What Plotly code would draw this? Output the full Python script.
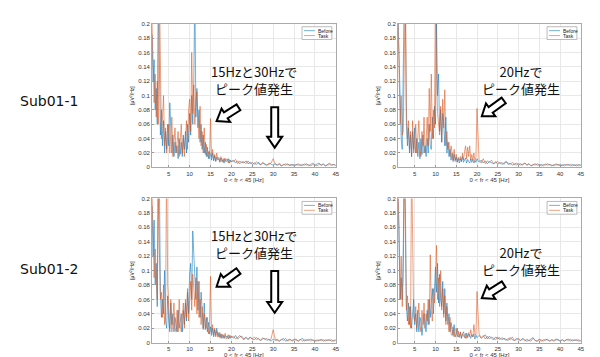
import math
import numpy as np
import plotly.graph_objects as go

# frequency grid [Hz]
freq = list(np.arange(1.0, 20.001, 0.25)) + list(np.arange(20.5, 45.001, 0.5))

# PSD values in 1e-3 uV^2/Hz
p1_before = [185,120,150,80, 110,60,250,90, 45,80,30,65, 20,50,25,60, 30,90,40,20,
             45,15,35,20, 30,12,40,18, 35,15,45,25, 50,20,60,35, 75,45,100,60,
             120,250,70,110, 55,80,35,60, 25,45,20,35, 15,28,12,22, 18,10,20,9,
             16,8,14,10, 12,7,13,8, 11,6,12,8, 9,12,6,10, 8,
             10,6,9,5,8,6,9,5,7,4, 6,4,7,3,6,4,3,6,4,3, 5,3,4,2,4,3,5,2,4,3,
             3,5,2,4,3,5,2,4,6,3, 4,6,3,5,2,4,6,3,4,3]
p1_task = [200,140,90,130, 70,120,60,260, 100,40,70,100, 30,55,20,45, 60,20,45,70,
           15,40,55,20, 35,50,15,45, 60,20,40,15, 45,65,25,80, 95,50,160,75,
           115,60,95,105, 65,40,85,30, 50,20,55,18, 32,15,22,12, 68,14,25,10,
           18,9,20,12, 14,8,15,9, 7,13,8,11, 12,6,11,7, 9,
           8,11,5,9,6,8,5,9,5,7, 4,8,5,4,7,5,3,4,6,12, 4,3,6,2,4,5,3,4,3,2,
           4,3,4,2,5,3,4,2,4,3, 2,4,3,4,2,3,4,3,4,2]
p2_before = [210,150,70,40, 25,110,250,230, 60,30,55,20, 45,15,50,25, 55,20,40,15,
             35,12,40,18, 45,20,30,15, 40,20,60,30, 25,70,40,85, 60,200,100,130,
             50,80,35,75, 60,30,70,20, 35,15,25,10, 20,8,18,10, 14,7,12,6,
             12,8,15,7, 10,13,6,11, 8,6,12,7, 11,6,9,7, 12,
             7,10,6,9,5,8,6,5,8,4, 7,4,6,8,4,6,3,5,6,3, 5,3,6,3,5,2,4,5,3,4,
             4,2,5,3,4,3,2,5,3,4, 2,4,3,4,2,4,3,2,4,3]
p2_task = [200,120,60,100, 45,50,180,260, 80,40,65,25, 50,15,65,20, 40,60,20,50,
           65,25,15,50, 30,70,20,35, 70,30,110,50, 130,40,80,55, 260,140,75,60,
           45,85,35,95, 55,108,30,50, 25,35,15,30, 22,10,25,8, 18,8,14,10,
           15,8,20,10, 22,30,12,28, 15,30,10,18, 10,20,8,15, 82,
           10,6,12,5,9,7,10,5,7,8, 5,7,4,8,6,4,7,4,3,6, 3,5,6,3,5,2,4,3,5,3,
           2,4,3,5,3,2,4,3,4,2, 4,2,4,3,4,2,3,4,2,3]
p3_before = [190,120,170,80, 110,50,260,230, 70,35,60,40, 100,30,20,65, 30,15,55,25,
             40,15,35,20, 15,45,20,30, 40,15,45,25, 55,30,70,40, 95,110,60,155,
             115,80,60,105, 45,85,35,70, 40,20,55,18, 35,15,28,12, 22,10,20,8,
             18,10,20,8, 14,7,12,6, 11,6,10,8, 9,5,10,6, 9,
             6,10,5,8,9,5,7,4,8,5, 4,7,5,3,5,6,3,5,2,5, 3,5,2,4,6,2,4,5,2,4,
             5,2,4,6,2,4,3,5,3,2, 4,2,5,2,4,3,4,2,3,4]
p3_task = [210,150,90,130, 80,60,200,130, 60,70,35,80, 25,50,260,80, 45,20,60,15,
           35,55,20,15, 45,15,60,25, 15,40,55,20, 60,35,75,30, 60,85,45,95,
           75,50,90,40, 85,35,60,25, 50,18,40,22, 20,35,12,22, 92,14,25,10,
           20,8,16,12, 8,14,6,12, 10,6,13,5, 9,11,6,10, 7,
           9,5,8,10,6,4,8,5,7,5, 8,4,6,3,7,4,6,3,5,18, 4,3,2,5,3,6,2,4,3,5,
           3,2,5,2,4,3,5,2,4,3, 2,4,3,4,2,4,3,4,2,3]
p4_before = [200,130,60,90, 60,130,250,190, 50,30,55,25, 50,20,35,60, 25,40,15,45,
             15,35,30,10, 25,40,20,15, 45,25,60,35, 55,75,40,90, 105,70,110,55,
             95,60,50,85, 40,75,30,55, 25,40,15,28, 15,10,25,8, 12,20,8,10,
             14,6,12,15, 9,6,13,7, 12,8,6,11, 8,12,5,10, 7,
             10,6,8,11,5,9,6,4,8,5, 7,4,6,4,3,7,4,3,6,4, 3,6,4,2,3,5,7,3,2,5,
             4,2,5,3,2,4,3,5,3,2, 4,2,4,5,2,4,3,4,2,3]
p4_task = [210,160,60,120, 50,90,260,130, 45,65,25,50, 20,260,85,35, 30,50,20,40,
           55,25,15,45, 25,55,20,40, 30,60,25,122, 45,30,75,55, 80,135,60,90,
           50,100,45,75, 35,65,25,50, 30,15,35,12, 10,22,8,18, 20,8,16,7,
           15,6,12,8, 7,13,6,11, 14,8,18,10, 8,25,12,10, 71,
           12,7,10,5,9,5,8,6,4,8, 4,7,5,3,6,4,8,3,4,6, 3,5,2,5,3,2,6,3,2,4,
           2,4,3,5,2,4,2,4,5,2, 4,2,4,3,5,2,4,3,4,2]

series_names = ["Before", "Task"]
row_labels = ["Sub01-1", "Sub01-2"]
x_ticks = [5, 10, 15, 20, 25, 30, 35, 40, 45]
y_ticks = [0, 0.02, 0.04, 0.06, 0.08, 0.1, 0.12, 0.14, 0.16, 0.18, 0.2]
y_ticktext = ["0", "0.02", "0.04", "0.06", "0.08", "0.1", "0.12", "0.14", "0.16", "0.18", "0.2"]
x_title = "0 &lt; fr &lt; 45 [Hz]"
y_title = "[μV<sup>2</sup>/Hz]"
note_a = "15Hzと30Hzで<br>ピーク値発生"
note_b = "20Hzで<br>ピーク値発生"

W, H = 600, 357
BLUE = "rgba(0,114,189,0.55)"
ORANGE = "rgba(217,83,25,0.55)"
COLORS = [BLUE, ORANGE]

panels = [
    (p1_before, p1_task, (145, 330), (13, 159)),
    (p2_before, p2_task, (392.7, 576.7), (13, 159)),
    (p3_before, p3_task, (145, 330), (190.7, 337.3)),
    (p4_before, p4_task, (392.7, 576.7), (190.7, 337.3)),
]

fig = go.Figure()
layout = dict(width=W, height=H, margin=dict(l=0, r=0, t=0, b=0),
              paper_bgcolor="white", plot_bgcolor="white", showlegend=False)

axfont = dict(family="Liberation Sans, Arial", size=6, color="#333333")
legfont = dict(family="Liberation Sans, Arial", size=5, color="#222222")

def px(x):
    return x / W

def py(y):
    return 1 - y / H

for i, (bef, tsk, (x0, x1), (y0, y1)) in enumerate(panels):
    n = i + 1
    xa = "x" if n == 1 else f"x{n}"
    ya = "y" if n == 1 else f"y{n}"
    for s, vals in enumerate([bef, tsk]):
        fig.add_trace(go.Scatter(x=freq, y=np.array(vals) / 1000.0, mode="lines",
                                 name=series_names[s], line=dict(color=COLORS[s], width=1),
                                 xaxis=xa, yaxis=ya))
    xk = "xaxis" if n == 1 else f"xaxis{n}"
    yk = "yaxis" if n == 1 else f"yaxis{n}"
    layout[xk] = dict(domain=[px(x0), px(x1)], anchor=ya, range=[1, 45],
                      tickvals=x_ticks, ticks="inside", ticklen=2, tickcolor="#999",
                      showline=True, linecolor="#aaaaaa", linewidth=1, mirror=True,
                      showgrid=True, gridcolor="#e8e8e8", zeroline=False,
                      tickfont=axfont,
                      title=dict(text=x_title, font=axfont, standoff=0))
    layout[yk] = dict(domain=[py(y1), py(y0)], anchor=xa, range=[0, 0.2],
                      tickvals=y_ticks, ticktext=y_ticktext, ticks="inside", ticklen=2,
                      tickcolor="#999", showline=True, linecolor="#aaaaaa", linewidth=1,
                      mirror=True, showgrid=True, gridcolor="#e8e8e8", zeroline=False,
                      tickfont=axfont,
                      title=dict(text=y_title, font=legfont, standoff=3))
    # compact legend box (MATLAB style)
    bx0, bx1, by0, by1 = x1 - 34, x1 - 4, y0 + 3, y0 + 16
    fig.add_shape(type="rect", xref="paper", yref="paper",
                  x0=px(bx0), x1=px(bx1), y0=py(by1), y1=py(by0),
                  fillcolor="white", line=dict(color="#aaaaaa", width=0.8), layer="above")
    for s in range(2):
        ly = by0 + 4 + 5 * s
        fig.add_shape(type="line", xref="paper", yref="paper",
                      x0=px(bx0 + 2), x1=px(bx0 + 13), y0=py(ly), y1=py(ly),
                      line=dict(color=COLORS[s], width=1), layer="above")
        fig.add_annotation(text=series_names[s], x=px(bx0 + 14.5), y=py(ly), xref="paper",
                           yref="paper", showarrow=False, xanchor="left", yanchor="middle",
                           font=legfont)

fig.update_layout(**layout)

# text notes
cjk = "Noto Sans CJK JP"
def note(text, cx, cy, size=13):
    fig.add_annotation(text=text, x=px(cx), y=py(cy), xref="paper", yref="paper",
                       showarrow=False, xanchor="center", yanchor="middle", align="center",
                       font=dict(family=cjk, size=size, color="#111111"))

note(note_a, 248, 70)
note(note_b, 516, 70)
note(note_a, 248, 237)
note(note_b, 516, 254.5)

for k, lab in enumerate(row_labels):
    fig.add_annotation(text=lab, x=px(10), y=py(92 + 170 * k), xref="paper", yref="paper",
                       showarrow=False, xanchor="left", yanchor="middle",
                       font=dict(family="DejaVu Sans", size=14, color="#111111"))

# hollow block arrows
def block_arrow(tail, tip, sw, hw, hl):
    tx, ty = tail
    qx, qy = tip
    dx, dy = qx - tx, qy - ty
    L = math.hypot(dx, dy)
    ux, uy = dx / L, dy / L
    nx, ny = -uy, ux
    kx, ky = qx - ux * hl, qy - uy * hl
    pts = [(tx + nx * sw / 2, ty + ny * sw / 2), (kx + nx * sw / 2, ky + ny * sw / 2),
           (kx + nx * hw / 2, ky + ny * hw / 2), (qx, qy),
           (kx - nx * hw / 2, ky - ny * hw / 2), (kx - nx * sw / 2, ky - ny * sw / 2),
           (tx - nx * sw / 2, ty - ny * sw / 2)]
    path = "M" + " L".join(f"{px(x):.5f},{py(y):.5f}" for x, y in pts) + " Z"
    fig.add_shape(type="path", path=path, xref="paper", yref="paper",
                  fillcolor="white", line=dict(color="black", width=2), layer="above")

block_arrow((232, 98), (210, 112), 7, 16, 11)
block_arrow((268.5, 98), (268.5, 139), 7, 15, 11)
block_arrow((499, 91), (477, 107), 7, 16, 11)
block_arrow((232, 264.5), (210, 280.5), 7, 16, 11)
block_arrow((268.5, 264.5), (268.5, 307), 7, 15, 11)
block_arrow((499, 278), (477, 292), 7, 16, 11)

fig.write_html("out.html")
